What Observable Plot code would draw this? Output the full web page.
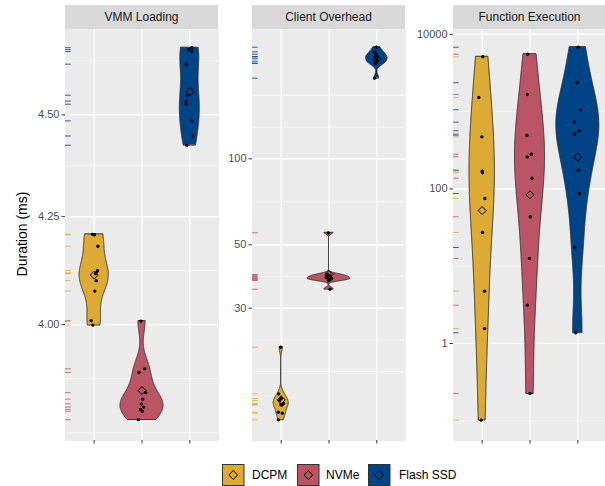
<!DOCTYPE html>
<html><head><meta charset="utf-8">
<script src="https://cdn.jsdelivr.net/npm/d3@7"></script>
<script src="https://cdn.jsdelivr.net/npm/@observablehq/plot@0.6"></script>
<style>
body{margin:0;background:#fff;font-family:"Liberation Sans",Arial,Helvetica,sans-serif;}
#wrap{position:relative;width:605px;height:486px;overflow:hidden;background:#fff;}
.pn{position:absolute;top:0;}
.strip{position:absolute;top:5px;height:24px;background:#d9d9d9;color:#1a1a1a;font-size:12px;line-height:24px;text-align:center;white-space:nowrap;}
#ytitle{position:absolute;left:22px;top:234px;transform:translate(-50%,-50%) rotate(-90deg);font-size:14px;color:#000;white-space:nowrap;}
#legend{position:absolute;top:464px;left:0;width:605px;height:22px;}
.key{position:absolute;top:0;}
.ktxt{position:absolute;top:3px;font-size:12px;color:#000;white-space:nowrap;line-height:16px;}
</style></head>
<body><div id="wrap"></div>
<script>
// ---- categories ----
const groups = ["DCPM", "NVMe", "Flash SSD"];
const groupColors = ["#DDAA33", "#BB5566", "#004488"];
const facets = ["VMM Loading", "Client Overhead", "Function Execution"];

// ---- VMM Loading (ms) ----
const vmmDCPM  = [4.208, 4.207, 4.180, 4.123, 4.118, 4.116, 4.100, 4.076, 4.009, 3.999];
const vmmNVMe  = [4.008, 3.902, 3.894, 3.850, 3.836, 3.826, 3.819, 3.814, 3.810, 3.792];
const vmmFlash = [4.673, 4.668, 4.663, 4.630, 4.550, 4.535, 4.527, 4.485, 4.447, 4.424];
const vmmDCPMJit  = [-0.035, 0.007, 0.077, 0.070, 0.042, 0.028, 0.042, 0.014, -0.063, -0.028];
const vmmNVMeJit  = [-0.021, 0.056, -0.063, 0.077, 0.014, -0.014, 0.035, -0.028, 0.007, -0.077];
const vmmFlashJit = [0.042, -0.028, 0.042, -0.070, -0.049, -0.077, -0.077, 0.042, 0.056, -0.063];
const vmmTicks = [4.00, 4.25, 4.50];
const vmmTickLabels = ["4.00", "4.25", "4.50"];

// ---- Client Overhead (ms) ----
const cliDCPM  = [21.91, 15.05, 14.49, 14.26, 13.91, 13.80, 13.75, 12.97, 12.87, 12.20];
const cliNVMe  = [55.08, 39.36, 39.05, 38.73, 38.42, 38.11, 37.90, 37.72, 37.50, 34.96];
const cliFlash = [245.8, 236.9, 232.4, 228.1, 227.2, 223.9, 219.6, 216.1, 215.8, 191.5];
const cliDCPMJit  = [-0.010, -0.052, 0, -0.031, 0.052, -0.010, 0.014, -0.059, 0.024, -0.059];
const cliNVMeJit  = [-0.014, -0.035, 0.007, 0.028, -0.056, 0.056, 0, 0.021, -0.014, 0.021];
const cliFlashJit = [-0.010, -0.045, -0.014, -0.021, 0, -0.007, 0.007, -0.028, -0.021, -0.049];
const cliTicks = [30, 50, 100];
const cliTickLabels = ["30", "50", "100"];

// ---- Function Execution (ms) ----
const fnDCPM  = [5117, 1521, 472, 169.4, 161.5, 75.1, 27.3, 4.75, 1.56, 0.102];
const fnNVMe  = [5530, 1664, 491, 281, 260, 137.5, 43.6, 12.6, 3.13, 0.2255];
const fnFlash = [6808, 2360, 1055, 729, 564, 510, 174.6, 87.2, 17.46, 1.375];
const fnDCPMJit  = [0.014, -0.070, -0.007, 0, 0.007, 0.056, 0.007, 0.049, 0.049, -0.021];
const fnNVMeJit  = [-0.049, -0.056, -0.063, 0.028, -0.056, 0.042, 0.007, -0.014, -0.056, 0];
const fnFlashJit = [0.007, -0.014, 0.056, -0.070, 0.028, -0.063, 0.014, 0.035, -0.063, -0.042];
const fnTicks = [1, 100, 10000];
const fnTickLabels = ["1", "100", "10000"];

// ---- layout / scale config ----
const panels = [
  {name: facets[0], left: 0,   width: 218, marginLeft: 65, domain: [3.748, 4.721],
   series: [vmmDCPM, vmmNVMe, vmmFlash], jit: [vmmDCPMJit, vmmNVMeJit, vmmFlashJit],
   ticks: vmmTicks, labels: vmmTickLabels},
  {name: facets[1], left: 218, width: 187, marginLeft: 34, domain: [10.33, 283.5],
   series: [cliDCPM, cliNVMe, cliFlash], jit: [cliDCPMJit, cliNVMeJit, cliFlashJit],
   ticks: cliTicks, labels: cliTickLabels},
  {name: facets[2], left: 405, width: 201, marginLeft: 48, domain: [0.0556, 11530],
   series: [fnDCPM, fnNVMe, fnFlash], jit: [fnDCPMJit, fnNVMeJit, fnFlashJit],
   ticks: fnTicks, labels: fnTickLabels}
];

function minorBreaks(major, domain) {
  let b = major.map(Math.log10);
  const bd = b[1] - b[0];
  const lim = domain.map(Math.log10);
  if (lim[0] < b[0]) b = [b[0] - bd, ...b];
  if (lim[1] > b[b.length - 1]) b = [...b, b[b.length - 1] + bd];
  const out = [];
  for (let i = 0; i < b.length - 1; i++) out.push(b[i], (b[i] + b[i + 1]) / 2);
  out.push(b[b.length - 1]);
  return out.filter(v => v >= lim[0] && v <= lim[1]).map(v => Math.pow(10, v));
}

function kde(values) {
  const lv = values.map(Math.log10);
  const n = lv.length;
  const sorted = lv.slice().sort(d3.ascending);
  const sd = d3.deviation(lv);
  const iqr = d3.quantileSorted(sorted, 0.75) - d3.quantileSorted(sorted, 0.25);
  let lo = Math.min(sd, iqr / 1.34);
  if (!(lo > 0)) lo = sd || 1;
  const bw = 0.9 * lo * Math.pow(n, -0.2);
  const [mn, mx] = d3.extent(lv);
  const out = [];
  for (let i = 0; i < 512; i++) {
    const t = mn + (mx - mn) * i / 511;
    let s = 0;
    for (const x of lv) { const u = (t - x) / bw; s += Math.exp(-0.5 * u * u); }
    out.push({t, d: s / (n * bw * Math.sqrt(2 * Math.PI))});
  }
  return out;
}

const wrap = document.getElementById("wrap");

panels.forEach(p => {
  const dens = p.series.map(kde);
  const maxD = d3.max(dens.flat(), d => d.d);
  const violinRows = [], pointRows = [], meanRows = [];
  groups.forEach((g, gi) => {
    const c = gi + 1;
    dens[gi].forEach(r => {
      const w = 0.45 * r.d / maxD;
      violinRows.push({group: g, y: Math.pow(10, r.t), x1: c - w, x2: c + w});
    });
    p.series[gi].forEach((v, i) => pointRows.push({group: g, v, x: c + p.jit[gi][i]}));
    meanRows.push({group: g, x: c, m: Math.pow(10, d3.mean(p.series[gi], Math.log10))});
  });
  const minor = minorBreaks(p.ticks, p.domain);
  const labelOf = new Map(p.ticks.map((t, i) => [t, p.labels[i]]));

  const chart = Plot.plot({
    width: p.width, height: 448,
    marginLeft: p.marginLeft, marginRight: 0, marginTop: 29, marginBottom: 8,
    style: {fontFamily: '"Liberation Sans", Arial, sans-serif', fontSize: "11px", background: "transparent", overflow: "visible"},
    x: {domain: [0.4, 3.6], axis: null},
    y: {type: "log", domain: p.domain, axis: null},
    color: {domain: groups, range: groupColors},
    marks: [
      Plot.frame({fill: "#ebebeb", stroke: "#ebebeb"}),
      Plot.ruleY(minor, {stroke: "white", strokeWidth: 0.6}),
      Plot.ruleY(p.ticks, {stroke: "white", strokeWidth: 1.2}),
      Plot.ruleX([1, 2, 3], {stroke: "white", strokeWidth: 1.2}),
      Plot.axisY({ticks: p.ticks, tickFormat: d => labelOf.get(d), tickSize: 3.5, tickPadding: 2.5,
                  stroke: "#333333", fill: "#4d4d4d", label: null, fontSize: 11}),
      Plot.axisX({ticks: [1, 2, 3], tickFormat: () => "", tickSize: 3.5, stroke: "#333333", label: null}),
      Plot.ruleY(pointRows, {y: "v", x1: 0.4, x2: 0.52, stroke: "group", strokeWidth: 1, strokeOpacity: 0.8}),
      Plot.areaX(violinRows, {y: "y", x1: "x1", x2: "x2", z: "group", fill: "group", stroke: "#333333", strokeWidth: 1}),
      Plot.dot(pointRows, {x: "x", y: "v", r: 1.65, fill: "black", stroke: null}),
      Plot.dot(meanRows, {x: "x", y: "m", symbol: "diamond2", r: 3.6, stroke: "black", strokeWidth: 1, fill: "none"})
    ]
  });
  chart.classList.add("pn");
  chart.style.left = p.left + "px";
  wrap.appendChild(chart);

  const strip = document.createElement("div");
  strip.className = "strip";
  strip.style.left = (p.left + p.marginLeft) + "px";
  strip.style.width = (p.width - p.marginLeft) + "px";
  strip.textContent = p.name;
  wrap.appendChild(strip);
});

const yt = document.createElement("div");
yt.id = "ytitle";
yt.textContent = "Duration (ms)";
wrap.appendChild(yt);

// legend
const legend = document.createElement("div");
legend.id = "legend";
const keyX = [222, 297, 368];
const txtX = [252, 326, 399];
groups.forEach((g, i) => {
  const k = document.createElementNS("http://www.w3.org/2000/svg", "svg");
  k.setAttribute("width", 23); k.setAttribute("height", 22);
  k.setAttribute("class", "key");
  k.style.left = keyX[i] + "px";
  k.innerHTML = `<rect x="0.5" y="0.5" width="21.5" height="21" fill="${groupColors[i]}" stroke="#333333" stroke-width="1"/>
    <path d="M11.25 6.5 L15.5 11 L11.25 15.5 L7 11 Z" fill="none" stroke="black" stroke-width="1"/>`;
  legend.appendChild(k);
  const t = document.createElement("div");
  t.className = "ktxt";
  t.style.left = txtX[i] + "px";
  t.textContent = g;
  legend.appendChild(t);
});
wrap.appendChild(legend);
</script></body></html>
